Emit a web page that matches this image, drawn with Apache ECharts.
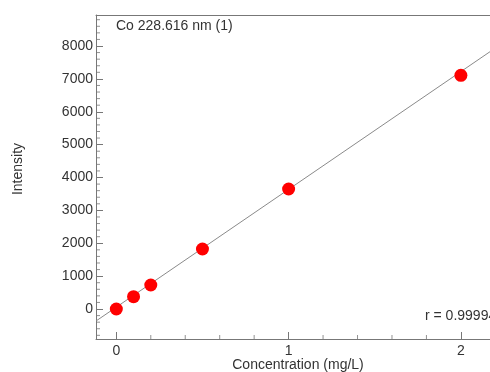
<!DOCTYPE html>
<html>
<head>
<meta charset="utf-8">
<script src="https://cdn.jsdelivr.net/npm/echarts@6/dist/echarts.min.js"></script>
<style>html,body{margin:0;padding:0;background:#fff}#c{width:490px;height:372px}</style>
</head>
<body>
<div id="c"></div>
<script>
// Data
var concentration = [0, 0.1, 0.2, 0.5, 1, 2];
var intensity = [0, 374, 730, 1825, 3650, 7109];
// Calibration line end points
var fitX = [-0.118, 2.169];
var fitY = [-365, 7827];
// Axis ticks
var xMajor = [0, 1, 2];
var xMinor = [0.2, 0.4, 0.6, 0.8, 1.2, 1.4, 1.6, 1.8];
var yMajor = [0, 1000, 2000, 3000, 4000, 5000, 6000, 7000, 8000];
var yMinor = [-800, -600, -400, -200, 200, 400, 600, 800, 1200, 1400, 1600, 1800, 2200, 2400, 2600, 2800,
  3200, 3400, 3600, 3800, 4200, 4400, 4600, 4800, 5200, 5400, 5600, 5800, 6200, 6400, 6600, 6800,
  7200, 7400, 7600, 7800, 8200, 8400, 8600, 8800];
var xRange = [-0.118, 2.169];
var yRange = [-912, 8943];
var titleText = 'Co 228.616 nm (1)';
var rText = 'r = 0.99994';
var xTitle = 'Concentration (mg/L)';
var yTitle = 'Intensity';

var FONT = '"Liberation Sans", Arial, sans-serif';
var TXT = '#333';
var AX = '#777';
var FS = 14;

var scatterData = concentration.map(function (c, i) { return [c, intensity[i]]; });
var fitData = fitX.map(function (x, i) { return [x, fitY[i]]; });
var xMinorData = xMinor.map(function (v) { return [v, yRange[0]]; });
var yMinorData = yMinor.map(function (v) { return [xRange[0], v]; });
var gridBox = {left: 96, top: 15, right: 0, bottom: 33, containLabel: false};

var chart = echarts.init(document.getElementById('c'), null, {renderer: 'canvas'});
chart.setOption({
  animation: false,
  backgroundColor: '#fff',
  grid: [Object.assign({}, gridBox), Object.assign({}, gridBox)],
  xAxis: [
    {gridIndex: 0, type: 'value', position: 'bottom', min: xRange[0], max: xRange[1],
     axisLine: {show: true, onZero: false, lineStyle: {color: AX, width: 1}},
     axisTick: {show: true, inside: true, length: 7, customValues: xMajor, lineStyle: {color: AX}},
     axisLabel: {show: true, customValues: xMajor, margin: 5, color: TXT, fontSize: FS, fontFamily: FONT,
       formatter: function (v) { return String(v); }},
     splitLine: {show: false}},
    {gridIndex: 1, type: 'value', position: 'top', min: xRange[0], max: xRange[1],
     axisLine: {show: true, onZero: false, lineStyle: {color: AX, width: 1}},
     axisTick: {show: false}, axisLabel: {show: false}, splitLine: {show: false}}
  ],
  yAxis: [
    {gridIndex: 0, type: 'value', position: 'left', min: yRange[0], max: yRange[1],
     axisLine: {show: true, onZero: false, lineStyle: {color: AX, width: 1}},
     axisTick: {show: true, inside: true, length: 7, customValues: yMajor, lineStyle: {color: AX}},
     axisLabel: {show: true, customValues: yMajor, margin: 3, color: TXT, fontSize: FS, fontFamily: FONT,
       formatter: function (v) { return String(v); }},
     splitLine: {show: false}},
    {gridIndex: 1, type: 'value', show: false, min: yRange[0], max: yRange[1]}
  ],
  series: [
    // minor ticks, placed through the axes' scales
    {type: 'scatter', xAxisIndex: 0, yAxisIndex: 0, data: xMinorData, symbol: 'rect',
     symbolSize: [1, 4], symbolOffset: [0, -2], clip: false, silent: true,
     itemStyle: {color: AX}, z: 1},
    {type: 'scatter', xAxisIndex: 0, yAxisIndex: 0, data: yMinorData, symbol: 'rect',
     symbolSize: [4, 1], symbolOffset: [2, 0], clip: false, silent: true,
     itemStyle: {color: AX}, z: 1},
    {type: 'line', xAxisIndex: 0, yAxisIndex: 0, data: fitData, symbol: 'none', clip: true,
     lineStyle: {color: '#8a8a8a', width: 1}, z: 2},
    {type: 'scatter', xAxisIndex: 0, yAxisIndex: 0, data: scatterData, symbol: 'circle', symbolSize: 13,
     itemStyle: {color: '#ff0000', opacity: 1}, z: 3},
    {type: 'scatter', xAxisIndex: 1, yAxisIndex: 1, data: scatterData, symbolSize: 0, silent: true,
     itemStyle: {opacity: 0}}
  ],
  graphic: [
    {type: 'text', left: 116, top: 19, style: {text: titleText, fill: TXT, font: FS + 'px ' + FONT}},
    {type: 'text', left: 425, top: 309, style: {text: rText, fill: TXT, font: FS + 'px ' + FONT}},
    {type: 'text', x: 18, y: 169, rotation: Math.PI / 2,
     style: {text: yTitle, fill: TXT, font: FS + 'px ' + FONT, align: 'center', verticalAlign: 'middle'}},
    {type: 'text', x: 298, y: 365,
     style: {text: xTitle, fill: TXT, font: FS + 'px ' + FONT, align: 'center', verticalAlign: 'middle'}}
  ]
});
</script>
</body>
</html>
